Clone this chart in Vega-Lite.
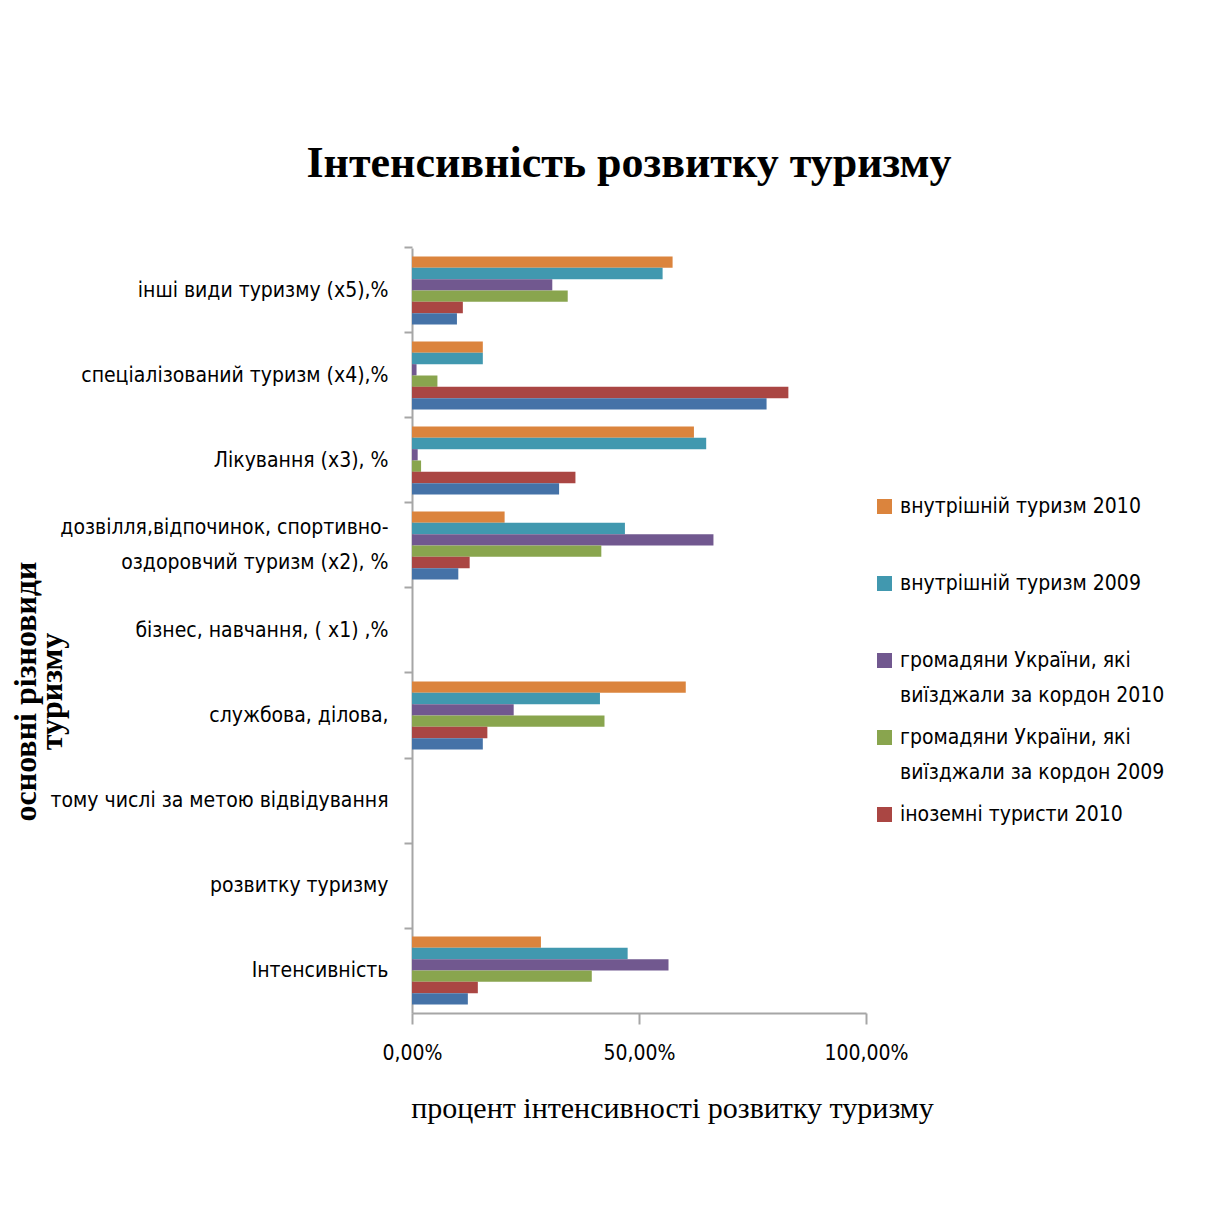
{
  "$schema": "https://vega.github.io/schema/vega-lite/v6.json",
  "width": 454,
  "height": 765,
  "padding": {"left": 8, "top": 142, "right": 5, "bottom": 5},
  "background": "white",
  "title": {
    "text": "Інтенсивність розвитку туризму",
    "font": "Liberation Serif",
    "fontSize": 44,
    "fontWeight": "bold",
    "color": "#000000",
    "anchor": "middle",
    "offset": 60,
    "dx": -10
  },
  "data": {
    "values": [
      {"cat": "інші види туризму (х5),%", "series": "внутрішній туризм 2010|", "value": 0.574},
      {"cat": "інші види туризму (х5),%", "series": "внутрішній туризм 2009|", "value": 0.552},
      {"cat": "інші види туризму (х5),%", "series": "громадяни України, які|виїзджали за кордон 2010", "value": 0.309},
      {"cat": "інші види туризму (х5),%", "series": "громадяни України, які|виїзджали за кордон 2009", "value": 0.343},
      {"cat": "інші види туризму (х5),%", "series": "іноземні туристи 2010", "value": 0.112},
      {"cat": "інші види туризму (х5),%", "series": "іноземні туристи 2009", "value": 0.099},
      {"cat": "спеціалізований туризм (х4),%", "series": "внутрішній туризм 2010|", "value": 0.156},
      {"cat": "спеціалізований туризм (х4),%", "series": "внутрішній туризм 2009|", "value": 0.156},
      {"cat": "спеціалізований туризм (х4),%", "series": "громадяни України, які|виїзджали за кордон 2010", "value": 0.010},
      {"cat": "спеціалізований туризм (х4),%", "series": "громадяни України, які|виїзджали за кордон 2009", "value": 0.056},
      {"cat": "спеціалізований туризм (х4),%", "series": "іноземні туристи 2010", "value": 0.829},
      {"cat": "спеціалізований туризм (х4),%", "series": "іноземні туристи 2009", "value": 0.781},
      {"cat": "Лікування (х3), %", "series": "внутрішній туризм 2010|", "value": 0.621},
      {"cat": "Лікування (х3), %", "series": "внутрішній туризм 2009|", "value": 0.648},
      {"cat": "Лікування (х3), %", "series": "громадяни України, які|виїзджали за кордон 2010", "value": 0.0125},
      {"cat": "Лікування (х3), %", "series": "громадяни України, які|виїзджали за кордон 2009", "value": 0.020},
      {"cat": "Лікування (х3), %", "series": "іноземні туристи 2010", "value": 0.360},
      {"cat": "Лікування (х3), %", "series": "іноземні туристи 2009", "value": 0.324},
      {"cat": "дозвілля,відпочинок, спортивно-|оздоровчий туризм (х2), %", "series": "внутрішній туризм 2010|", "value": 0.204},
      {"cat": "дозвілля,відпочинок, спортивно-|оздоровчий туризм (х2), %", "series": "внутрішній туризм 2009|", "value": 0.469},
      {"cat": "дозвілля,відпочинок, спортивно-|оздоровчий туризм (х2), %", "series": "громадяни України, які|виїзджали за кордон 2010", "value": 0.664},
      {"cat": "дозвілля,відпочинок, спортивно-|оздоровчий туризм (х2), %", "series": "громадяни України, які|виїзджали за кордон 2009", "value": 0.417},
      {"cat": "дозвілля,відпочинок, спортивно-|оздоровчий туризм (х2), %", "series": "іноземні туристи 2010", "value": 0.127},
      {"cat": "дозвілля,відпочинок, спортивно-|оздоровчий туризм (х2), %", "series": "іноземні туристи 2009", "value": 0.102},
      {"cat": "службова, ділова,", "series": "внутрішній туризм 2010|", "value": 0.603},
      {"cat": "службова, ділова,", "series": "внутрішній туризм 2009|", "value": 0.414},
      {"cat": "службова, ділова,", "series": "громадяни України, які|виїзджали за кордон 2010", "value": 0.224},
      {"cat": "службова, ділова,", "series": "громадяни України, які|виїзджали за кордон 2009", "value": 0.424},
      {"cat": "службова, ділова,", "series": "іноземні туристи 2010", "value": 0.166},
      {"cat": "службова, ділова,", "series": "іноземні туристи 2009", "value": 0.156},
      {"cat": "Інтенсивність", "series": "внутрішній туризм 2010|", "value": 0.284},
      {"cat": "Інтенсивність", "series": "внутрішній туризм 2009|", "value": 0.475},
      {"cat": "Інтенсивність", "series": "громадяни України, які|виїзджали за кордон 2010", "value": 0.565},
      {"cat": "Інтенсивність", "series": "громадяни України, які|виїзджали за кордон 2009", "value": 0.396},
      {"cat": "Інтенсивність", "series": "іноземні туристи 2010", "value": 0.145},
      {"cat": "Інтенсивність", "series": "іноземні туристи 2009", "value": 0.123}
    ]
  },
  "mark": {"type": "bar"},
  "encoding": {
    "y": {
      "field": "cat",
      "type": "nominal",
      "scale": {
        "domain": [
          "інші види туризму (х5),%",
          "спеціалізований туризм (х4),%",
          "Лікування (х3), %",
          "дозвілля,відпочинок, спортивно-|оздоровчий туризм (х2), %",
          "бізнес, навчання, ( х1) ,%",
          "службова, ділова,",
          "тому числі за метою відвідування",
          "розвитку туризму",
          "Інтенсивність"
        ],
        "paddingInner": 0.2,
        "paddingOuter": 0.1
      },
      "axis": {
        "title": ["основні   різновиди", "туризму"],
        "titleFont": "Liberation Serif",
        "titleFontSize": 32,
        "titleFontWeight": "bold",
        "titleColor": "#000000",
        "titleLineHeight": 26,
        "titleAngle": -90,
        "titleAlign": "center",
        "titleBaseline": "bottom",
        "titleX": -370,
        "titleY": 443,
        "bandPosition": -0.125,
        "labelExpr": "split(datum.label, '|')",
        "labelOffset": {"condition": {"test": "indexof(datum.value, '|') >= 0", "value": -17.5}, "value": 0},
        "labelFont": "DejaVu Sans Condensed",
        "labelFontSize": 21,
        "labelColor": "#000000",
        "labelLimit": 400,
        "labelPadding": 16,
        "tickSize": 8,
        "tickColor": "#a6a6a6",
        "tickWidth": 2,
        "domainColor": "#a6a6a6",
        "domainWidth": 2
      }
    },
    "yOffset": {
      "field": "series",
      "type": "nominal",
      "scale": {
        "domain": [
          "внутрішній туризм 2010|",
          "внутрішній туризм 2009|",
          "громадяни України, які|виїзджали за кордон 2010",
          "громадяни України, які|виїзджали за кордон 2009",
          "іноземні туристи 2010",
          "іноземні туристи 2009"
        ],
        "paddingInner": 0,
        "paddingOuter": 0
      }
    },
    "x": {
      "field": "value",
      "type": "quantitative",
      "scale": {"domain": [0, 1], "nice": false},
      "axis": {
        "title": "процент  інтенсивності  розвитку  туризму",
        "titleFont": "Liberation Serif",
        "titleFontSize": 30,
        "titleFontWeight": "normal",
        "titleColor": "#000000",
        "titleX": 260,
        "titleAlign": "center",
        "titlePadding": 30,
        "values": [0, 0.5, 1],
        "labelExpr": "replace(format(datum.value, '.2%'), '.', ',')",
        "labelFont": "DejaVu Sans Condensed",
        "labelFontSize": 21,
        "labelColor": "#000000",
        "labelPadding": 18,
        "labelFlush": false,
        "grid": false,
        "tickSize": 11,
        "tickColor": "#a6a6a6",
        "tickWidth": 2,
        "domainColor": "#a6a6a6",
        "domainWidth": 2
      }
    },
    "color": {
      "field": "series",
      "type": "nominal",
      "scale": {
        "domain": [
          "внутрішній туризм 2010|",
          "внутрішній туризм 2009|",
          "громадяни України, які|виїзджали за кордон 2010",
          "громадяни України, які|виїзджали за кордон 2009",
          "іноземні туристи 2010",
          "іноземні туристи 2009"
        ],
        "range": ["#DB843D", "#4198AF", "#71588F", "#89A54E", "#AA4643", "#4572A7"]
      },
      "legend": {
        "title": null,
        "orient": "none",
        "legendX": 462,
        "legendY": 248,
        "values": [
          "внутрішній туризм 2010|",
          "внутрішній туризм 2009|",
          "громадяни України, які|виїзджали за кордон 2010",
          "громадяни України, які|виїзджали за кордон 2009",
          "іноземні туристи 2010"
        ],
        "labelExpr": "split(datum.label, '|')",
        "labelFont": "DejaVu Sans Condensed",
        "labelFontSize": 21,
        "labelColor": "#000000",
        "labelLimit": 400,
        "labelOffset": 5,
        "symbolType": "square",
        "symbolSize": 225,
        "symbolStrokeWidth": 0,
        "rowPadding": 20
      }
    }
  },
  "config": {
    "view": {"stroke": null},
    "style": {"guide-label": {"lineHeight": 35}}
  }
}
